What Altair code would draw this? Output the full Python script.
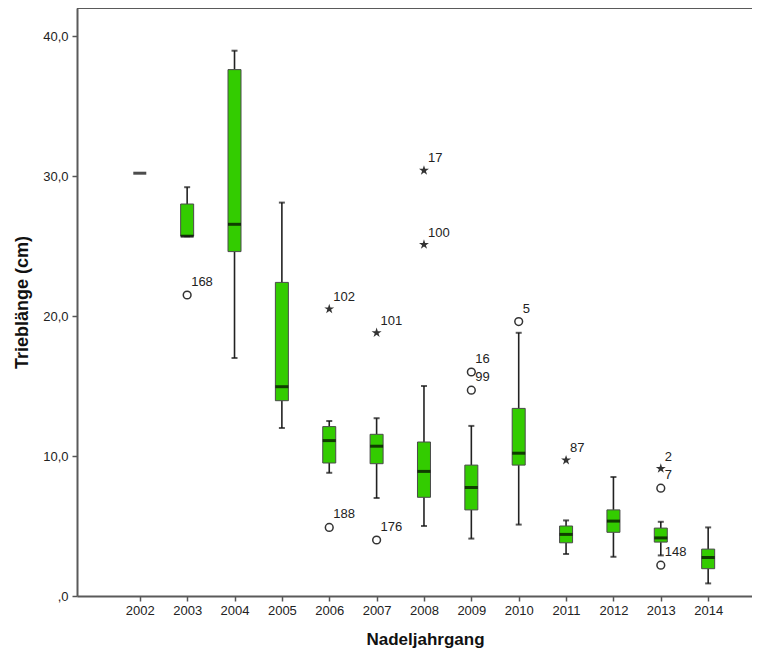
import altair as alt
import pandas as pd

# ---- data ----
years = [2002, 2003, 2004, 2005, 2006, 2007, 2008, 2009, 2010, 2011, 2012, 2013, 2014]
whisker_low = [None, 25.7, 17.0, 12.0, 8.8, 7.0, 5.0, 4.1, 5.1, 3.0, 2.8, 2.9, 0.9]
q1 = [None, 25.7, 24.6, 13.95, 9.5, 9.45, 7.05, 6.15, 9.35, 3.8, 4.55, 3.85, 1.95]
median = [30.2, 25.7, 26.55, 14.95, 11.1, 10.7, 8.9, 7.75, 10.2, 4.4, 5.35, 4.15, 2.75]
q3 = [None, 28.0, 37.6, 22.4, 12.1, 11.55, 11.0, 9.35, 13.4, 5.0, 6.15, 4.85, 3.35]
whisker_high = [None, 29.2, 38.95, 28.1, 12.5, 12.7, 15.0, 12.15, 18.8, 5.4, 8.5, 5.3, 4.9]

outlier_year = [2003, 2006, 2007, 2009, 2009, 2010, 2013, 2013]
outlier_value = [21.5, 4.9, 4.0, 16.0, 14.7, 19.6, 7.7, 2.2]
outlier_label = ["168", "188", "176", "16", "99", "5", "7", "148"]

extreme_year = [2006, 2007, 2008, 2008, 2011, 2013]
extreme_value = [20.5, 18.8, 30.4, 25.1, 9.7, 9.1]
extreme_label = ["102", "101", "17", "100", "87", "2"]

y_ticks = [0, 10, 20, 30, 40]

# ---- tables ----
box_df = pd.DataFrame({
    "year": years, "lo": whisker_low, "q1": q1, "med": median,
    "q3": q3, "hi": whisker_high,
})
out_df = pd.DataFrame({"year": outlier_year, "value": outlier_value, "label": outlier_label})
ext_df = pd.DataFrame({"year": extreme_year, "value": extreme_value, "label": extreme_label})

W, H = 675, 588
FONT = "Liberation Sans"

xscale = alt.Scale(domain=[2000.78, 2014.82], nice=False, zero=False)
yscale = alt.Scale(domain=[0, 42], nice=False, zero=False)

xaxis = alt.Axis(
    values=years, format="d", grid=False, title="Nadeljahrgang",
    tickSize=5, tickColor="#555", tickWidth=1.5,
    domainColor="#5a5a5a", domainWidth=2,
    labelFont=FONT, labelFontSize=13, labelColor="#222", labelPadding=3,
    titleFont=FONT, titleFontSize=17, titleFontWeight="bold", titleColor="#111",
    titleX=348, titleY=48, titleAlign="center", titleBaseline="alphabetic",
)
yaxis = alt.Axis(
    values=y_ticks, grid=False, title="Trieblänge (cm)",
    labelExpr="datum.value == 0 ? ',0' : replace(format(datum.value, '.1f'), '.', ',')",
    tickSize=5, tickColor="#555", tickWidth=1.5,
    domainColor="#5a5a5a", domainWidth=2,
    labelFont=FONT, labelFontSize=13, labelColor="#222", labelPadding=4,
    titleFont=FONT, titleFontSize=18, titleFontWeight="bold", titleColor="#111",
    titleAngle=270, titleX=-55, titleY=294, titleAlign="center", titleBaseline="middle",
)

X = alt.X("year:Q", scale=xscale, axis=xaxis)

base = alt.Chart(box_df)

lower_whisker = base.mark_rule(color="#222", strokeWidth=1.6).encode(
    x=X, y=alt.Y("lo:Q", scale=yscale, axis=yaxis), y2="q1:Q")
upper_whisker = base.mark_rule(color="#222", strokeWidth=1.6).encode(
    x=X, y=alt.Y("q3:Q", scale=yscale), y2="hi:Q")
cap_lo = base.mark_tick(orient="horizontal", size=6, thickness=2, color="#111").encode(
    x=X, y=alt.Y("lo:Q", scale=yscale))
cap_hi = base.mark_tick(orient="horizontal", size=6, thickness=2, color="#111").encode(
    x=X, y=alt.Y("hi:Q", scale=yscale))
box = base.mark_bar(size=13, fill="#33CC00", stroke="#4a4a4a", strokeWidth=1).encode(
    x=X, y=alt.Y("q1:Q", scale=yscale), y2="q3:Q")
med = base.mark_tick(orient="horizontal", size=13, thickness=3, color="#000").encode(
    x=X, y=alt.Y("med:Q", scale=yscale))

outliers = alt.Chart(out_df).mark_point(
    shape="circle", filled=False, size=60, stroke="#333", strokeWidth=1.5, opacity=1
).encode(x=X, y=alt.Y("value:Q", scale=yscale))

star = ("M0,-1L0.2245,-0.309L0.951,-0.309L0.363,0.118L0.588,0.809L0,0.382"
        "L-0.588,0.809L-0.363,0.118L-0.951,-0.309L-0.2245,-0.309Z")
extremes = alt.Chart(ext_df).mark_point(
    shape=star, filled=True, size=110, color="#333", opacity=1
).encode(x=X, y=alt.Y("value:Q", scale=yscale))

out_labels = alt.Chart(out_df).mark_text(
    align="left", baseline="middle", dx=4, dy=-13, font=FONT, fontSize=13, color="#222"
).encode(x=X, y=alt.Y("value:Q", scale=yscale), text="label:N")
ext_labels = alt.Chart(ext_df).mark_text(
    align="left", baseline="middle", dx=4, dy=-12, font=FONT, fontSize=13, color="#222"
).encode(x=X, y=alt.Y("value:Q", scale=yscale), text="label:N")

top_border = alt.Chart(pd.DataFrame({"k": [0]})).mark_rule(
    color="#5a5a5a", strokeWidth=2
).encode(x=alt.value(0), x2=alt.value(W), y=alt.value(0))

chart = alt.layer(
    top_border, lower_whisker, upper_whisker, cap_lo, cap_hi, box, med,
    outliers, extremes, out_labels, ext_labels,
).properties(
    width=W, height=H,
    autosize=alt.AutoSizeParams(type="none"),
    padding={"left": 69, "top": 0, "right": 0, "bottom": 53},
).configure_view(fill="#F0F0F0", stroke=None).configure(background="white")

chart.save("out.html", embed_options={"renderer": "svg", "actions": False})
